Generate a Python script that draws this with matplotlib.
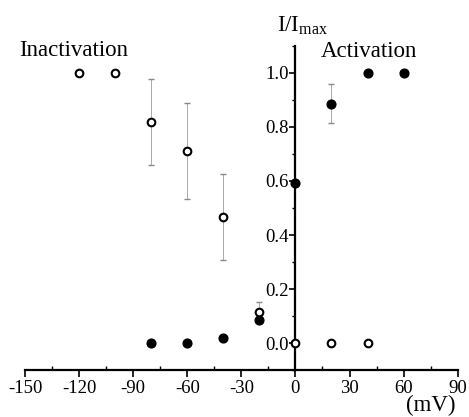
import matplotlib
matplotlib.use("Agg")
import matplotlib.pyplot as plt
from matplotlib.ticker import MultipleLocator

plt.rcParams['font.family'] = ['Liberation Serif', 'DejaVu Serif']
plt.rcParams['mathtext.fontset'] = 'custom'
plt.rcParams['mathtext.rm'] = 'Liberation Serif'
plt.rcParams['mathtext.it'] = 'Liberation Serif'

# Inactivation (open circles)
inact_v = [-120, -100, -80, -60, -40, -20, 0, 20, 40]
inact_y = [1.0, 1.0, 0.818, 0.712, 0.467, 0.116, 0.0, 0.0, 0.0]
inact_err = [0.0, 0.01, 0.16, 0.177, 0.16, 0.037, 0.0, 0.0, 0.0]

# Activation (filled circles)
act_v = [-80, -60, -40, -20, 0, 20, 40, 60]
act_y = [0.0, 0.0, 0.02, 0.085, 0.594, 0.886, 1.0, 1.0]
act_err = [0.0, 0.0, 0.0, 0.01, 0.0, 0.072, 0.0, 0.0]

xticks = [-150, -120, -90, -60, -30, 0, 30, 60, 90]
yticks = [0.0, 0.2, 0.4, 0.6, 0.8, 1.0]

fig = plt.figure(figsize=(4.69, 4.17), dpi=100)
ax = fig.add_axes([0.0533, 0.1127, 0.9226, 0.777])

ax.errorbar(inact_v, inact_y, yerr=inact_err, fmt='none', ecolor='#888888',
            elinewidth=0.5, linestyle=':', capsize=2.5, capthick=1.0, zorder=2)
ax.errorbar(act_v, act_y, yerr=act_err, fmt='none', ecolor='#888888',
            elinewidth=0.5, capsize=2.5, capthick=1.0, zorder=2)
ax.plot(inact_v, inact_y, linestyle='none', marker='o', markersize=5.5,
        markerfacecolor='white', markeredgecolor='black', markeredgewidth=1.5, zorder=4)
ax.plot(act_v, act_y, linestyle='none', marker='o', markersize=6.3,
        markerfacecolor='black', markeredgecolor='black', zorder=3)

ax.set_xlim(-150, 90)
ax.set_ylim(-0.1, 1.1)
ax.spines['top'].set_visible(False)
ax.spines['right'].set_visible(False)
ax.spines['left'].set_position(('data', 0))
ax.spines['left'].set_linewidth(1.6)
ax.spines['bottom'].set_linewidth(1.6)

ax.set_xticks(xticks)
ax.set_xticklabels([str(v) for v in xticks])
ax.set_yticks(yticks)
ax.set_yticklabels(['%.1f' % v for v in yticks])
ax.xaxis.set_minor_locator(MultipleLocator(15))
ax.yaxis.set_minor_locator(MultipleLocator(0.1))
ax.tick_params(axis='x', which='major', direction='out', length=5, width=1.2,
               labelsize=13.5, pad=2)
ax.tick_params(axis='x', which='minor', direction='in', length=3, width=1.0)
ax.tick_params(axis='y', which='major', direction='out', length=4, width=1.2,
               labelsize=13.5, pad=1)
ax.tick_params(axis='y', which='minor', direction='out', length=2, width=1.0)

ax.text(-153, 1.085, 'Inactivation', fontsize=16.5, ha='left', va='center')
ax.text(14, 1.078, 'Activation', fontsize=16.5, ha='left', va='center')
ax.text(-10.5, 1.152, r'I/I$_{\mathrm{max}}$', fontsize=16.5, ha='left', va='baseline')
ax.text(89, -0.233, '(mV)', fontsize=16.5, ha='right', va='center')

fig.savefig('out.png', dpi=100)
